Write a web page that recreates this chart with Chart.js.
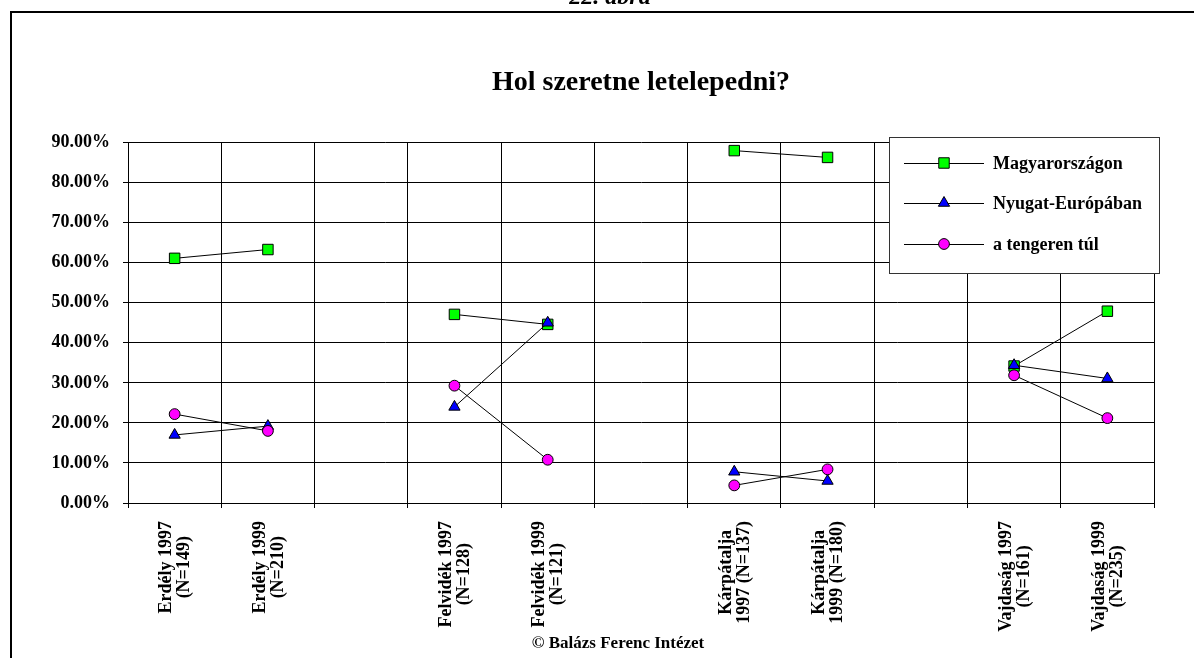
<!DOCTYPE html>
<html>
<head>
<meta charset="utf-8">
<script src="https://cdn.jsdelivr.net/npm/chart.js@4/dist/chart.umd.min.js"></script>
<style>
  html, body { margin: 0; padding: 0; background: #fff; }
  canvas { display: block; }
</style>
</head>
<body>
<canvas id="c" width="1194" height="658"></canvas>
<script>
// ---- Data ----
const tickLabels = [
  ['Erdély 1997', '(N=149)'],
  ['Erdély 1999', '(N=210)'],
  [],
  ['Felvidék 1997', '(N=128)'],
  ['Felvidék 1999', '(N=121)'],
  [],
  ['Kárpátalja', '1997 (N=137)'],
  ['Kárpátalja', '1999 (N=180)'],
  [],
  ['Vajdaság 1997', '(N=161)'],
  ['Vajdaság 1999', '(N=235)']
];
const seriesNames = ['Magyarországon', 'Nyugat-Európában', 'a tengeren túl'];
const magyarorszagon = [61.1, 63.3, null, 47.1, 44.6, null, 88.0, 86.3, null, 34.2, 47.9];
const nyugatEuropaban = [17.0, 19.2, null, 24.0, 45.0, null, 7.8, 5.5, null, 34.4, 31.1];
const tengerenTul = [22.2, 18.0, null, 29.3, 10.8, null, 4.4, 8.4, null, 31.9, 21.2];
const yTicks = { min: 0, max: 90, step: 10 };
const titleText = 'Hol szeretne letelepedni?';
const captionText = '22. ábra';
const footerText = '© Balázs Ferenc Intézet';

const FONT = '"Liberation Serif", "Times New Roman", serif';

function drawMarker(ctx, style, r, x, y, fill) {
  ctx.save();
  ctx.fillStyle = fill;
  ctx.strokeStyle = '#000';
  ctx.lineWidth = 1;
  ctx.beginPath();
  if (style === 'rect') {
    const s = Math.SQRT1_2 * r;
    ctx.rect(x - s, y - s, 2 * s, 2 * s);
  } else if (style === 'triangle') {
    let a = 0;
    ctx.moveTo(x + Math.sin(a) * r, y - Math.cos(a) * r);
    a += 2 * Math.PI / 3;
    ctx.lineTo(x + Math.sin(a) * r, y - Math.cos(a) * r);
    a += 2 * Math.PI / 3;
    ctx.lineTo(x + Math.sin(a) * r, y - Math.cos(a) * r);
    ctx.closePath();
  } else {
    ctx.arc(x, y, r, 0, Math.PI * 2);
  }
  ctx.fill();
  ctx.stroke();
  ctx.restore();
}

const decorPlugin = {
  id: 'decor',
  beforeDraw(chart) {
    const ctx = chart.ctx;
    ctx.save();
    ctx.fillStyle = '#fff';
    ctx.fillRect(0, 0, chart.width, chart.height);
    // frame
    ctx.strokeStyle = '#000';
    ctx.lineWidth = 2;
    ctx.beginPath();
    ctx.moveTo(11, chart.height + 5);
    ctx.lineTo(11, 12);
    ctx.lineTo(chart.width + 5, 12);
    ctx.stroke();
    // caption (partly cut off at top)
    ctx.fillStyle = '#000';
    ctx.font = 'italic bold 24px ' + FONT;
    ctx.textAlign = 'center';
    ctx.textBaseline = 'alphabetic';
    ctx.fillText(captionText, 610, 4);
    ctx.restore();
  },
  afterDraw(chart) {
    const ctx = chart.ctx;
    const xs = chart.scales.x;
    ctx.save();
    // x tick labels (rotated, lines centered within block)
    ctx.fillStyle = '#000';
    ctx.font = 'bold 18px ' + FONT;
    ctx.textBaseline = 'middle';
    ctx.textAlign = 'center';
    const lh = 18;
    chart.data.labels.forEach((lines, i) => {
      if (!lines || !lines.length) return;
      const px = xs.getPixelForValue(i);
      const w = Math.max(...lines.map(l => ctx.measureText(l).width));
      const cy = 521 + w / 2;
      lines.forEach((l, j) => {
        const off = (j - (lines.length - 1) / 2) * lh;
        ctx.save();
        ctx.translate(px + off, cy);
        ctx.rotate(-Math.PI / 2);
        ctx.fillText(l, 0, 1);
        ctx.restore();
      });
    });
    // footer
    ctx.font = 'bold 17px ' + FONT;
    ctx.textAlign = 'center';
    ctx.fillText(footerText, 618, 644);
    // legend box
    const bx = 889, by = 137, bw = 270, bh = 136;
    ctx.fillStyle = '#fff';
    ctx.fillRect(bx, by, bw, bh);
    ctx.strokeStyle = '#333';
    ctx.lineWidth = 1;
    ctx.strokeRect(bx + 0.5, by + 0.5, bw, bh);
    const rowsY = [163, 203, 244];
    chart.data.datasets.forEach((ds, i) => {
      const y = rowsY[i];
      ctx.strokeStyle = '#000';
      ctx.lineWidth = 1;
      ctx.beginPath();
      ctx.moveTo(904, y + 0.5);
      ctx.lineTo(984, y + 0.5);
      ctx.stroke();
      drawMarker(ctx, ds.pointStyle, ds.pointRadius, 944, y, ds.pointBackgroundColor);
      ctx.fillStyle = '#000';
      ctx.font = 'bold 18px ' + FONT;
      ctx.textAlign = 'left';
      ctx.textBaseline = 'middle';
      ctx.fillText(ds.label, 993, y + 1);
    });
    ctx.restore();
  }
};

function makeDataset(label, data, style, radius, color, order) {
  return {
    label, data,
    borderColor: '#000',
    borderWidth: 1,
    pointStyle: style,
    pointRadius: radius,
    pointHoverRadius: radius,
    pointBackgroundColor: color,
    pointBorderColor: '#000',
    pointBorderWidth: 1,
    spanGaps: false,
    fill: false,
    tension: 0,
    order
  };
}

new Chart(document.getElementById('c'), {
  type: 'line',
  data: {
    labels: tickLabels,
    datasets: [
      makeDataset(seriesNames[0], magyarorszagon, 'rect', 7.4, '#00ff00', 3),
      makeDataset(seriesNames[1], nyugatEuropaban, 'triangle', 6.5, '#0000ff', 2),
      makeDataset(seriesNames[2], tengerenTul, 'circle', 5.4, '#ff00ff', 1)
    ]
  },
  options: {
    responsive: false,
    animation: false,
    devicePixelRatio: 1,
    events: [],
    layout: { padding: { top: 0, left: 0, right: 40, bottom: 0 } },
    plugins: {
      legend: { display: false },
      tooltip: { enabled: false },
      title: {
        display: true,
        text: titleText,
        fullSize: false,
        color: '#000',
        font: { family: FONT, size: 28, weight: 'bold', lineHeight: 1.2 },
        padding: { top: 66, bottom: 43 }
      }
    },
    scales: {
      x: {
        type: 'category',
        offset: true,
        grid: { display: true, offset: true, color: '#000', lineWidth: 1, drawTicks: true, tickLength: 5 },
        border: { display: true, color: '#000', width: 1 },
        ticks: { display: false },
        afterFit(scale) { scale.height = 155; }
      },
      y: {
        min: yTicks.min,
        max: yTicks.max,
        grid: { color: '#000', lineWidth: 1, drawTicks: true, tickLength: 5 },
        border: { display: true, color: '#000', width: 1 },
        ticks: {
          stepSize: yTicks.step,
          color: '#000',
          padding: 13,
          font: { family: FONT, size: 18, weight: 'bold' },
          callback: v => v.toFixed(2) + '%'
        },
        afterFit(scale) { scale.width = 128; }
      }
    }
  },
  plugins: [decorPlugin]
});
</script>
</body>
</html>
